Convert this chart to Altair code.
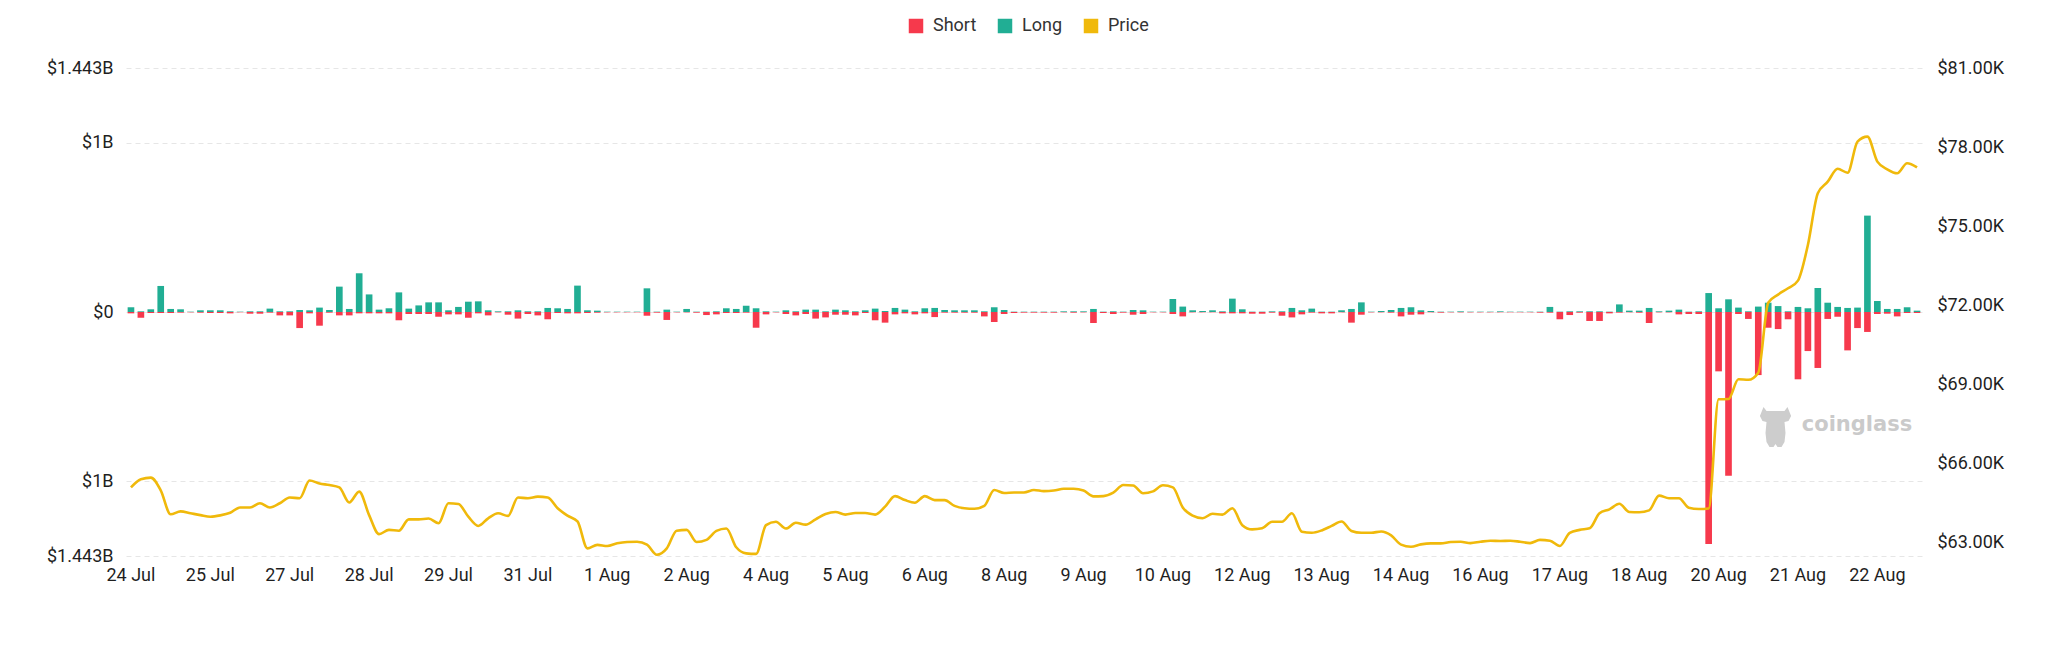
import altair as alt
import pandas as pd

# ---- categories: 4-hour buckets, 24 Jul 08:00 onwards ----
START = "2024-07-24 08:00"
N_BARS = 181
TIMES = pd.date_range(START, periods=N_BARS, freq="4h").strftime("%Y-%m-%dT%H:%M").tolist()
TICK_EVERY = 8

# ---- long liquidations ($M) ----
LONG_M = [
    28, 4, 16, 154, 18, 16, 2, 10, 10, 10,
    4, 2, 4, 4, 20, 4, 4, 12, 10, 26,
    12, 150, 18, 229, 104, 14, 22, 116, 20, 39,
    57, 57, 10, 30, 61, 63, 10, 4, 4, 10,
    4, 4, 24, 22, 18, 156, 10, 8, 2, 2,
    2, 2, 140, 2, 14, 2, 18, 2, 2, 4,
    22, 18, 37, 22, 4, 2, 10, 4, 14, 14,
    4, 14, 10, 4, 10, 20, 6, 24, 14, 4,
    22, 24, 12, 10, 10, 10, 4, 28, 12, 2,
    2, 2, 2, 2, 4, 4, 4, 18, 2, 4,
    2, 12, 10, 2, 2, 77, 32, 10, 6, 10,
    4, 79, 16, 2, 2, 4, 4, 24, 10, 20,
    2, 2, 10, 18, 57, 2, 6, 12, 24, 28,
    10, 6, 2, 2, 4, 2, 2, 2, 4, 2,
    2, 2, 2, 30, 2, 4, 4, 4, 4, 2,
    45, 8, 8, 24, 4, 8, 14, 2, 4, 112,
    22, 75, 26, 4, 32, 55, 35, 4, 30, 22,
    142, 55, 30, 24, 26, 570, 65, 18, 18, 28, 8,
]

# ---- short liquidations ($M) ----
SHORT_M = [
    8, 34, 6, 6, 6, 4, 2, 4, 6, 6,
    8, 2, 10, 10, 4, 20, 20, 95, 8, 81,
    4, 20, 20, 8, 8, 8, 8, 49, 12, 12,
    12, 28, 14, 14, 34, 8, 20, 2, 16, 39,
    12, 20, 43, 6, 8, 8, 6, 4, 2, 2,
    2, 2, 22, 4, 47, 2, 2, 4, 18, 14,
    6, 6, 4, 93, 14, 2, 12, 20, 12, 39,
    32, 16, 16, 20, 6, 49, 63, 14, 8, 14,
    8, 30, 4, 4, 4, 4, 26, 59, 12, 6,
    4, 4, 4, 4, 2, 4, 2, 65, 6, 12,
    4, 16, 12, 2, 2, 12, 26, 2, 2, 2,
    8, 8, 8, 10, 10, 4, 22, 32, 14, 4,
    8, 8, 2, 63, 16, 2, 2, 4, 26, 16,
    14, 2, 4, 2, 2, 2, 2, 2, 2, 2,
    2, 2, 4, 4, 43, 18, 4, 53, 53, 8,
    4, 2, 4, 65, 2, 2, 14, 12, 12, 1372,
    351, 968, 12, 41, 373, 93, 101, 43, 398, 231,
    331, 41, 28, 227, 95, 118, 12, 10, 26, 6, 6,
]

# ---- price ($) ----
PRICE = [
    65100, 65410, 65470, 64990, 64080, 64190, 64120, 64050, 63990, 64040,
    64140, 64340, 64340, 64500, 64340, 64500, 64720, 64690, 65360, 65250,
    65190, 65100, 64530, 64940, 64050, 63330, 63490, 63460, 63890, 63890,
    63920, 63740, 64500, 64470, 63990, 63640, 63930, 64120, 64020, 64720,
    64690, 64750, 64720, 64310, 64030, 63810, 62790, 62920, 62880, 62980,
    63030, 63040, 62930, 62550, 62790, 63460, 63490, 63030, 63110, 63450,
    63540, 62830, 62600, 62580, 63670, 63800, 63540, 63760, 63690, 63890,
    64090, 64170, 64070, 64130, 64130, 64070, 64370, 64770, 64620, 64520,
    64770, 64620, 64620, 64400, 64310, 64290, 64400, 65000, 64890, 64910,
    64910, 65000, 64960, 64980, 65050, 65050, 64980, 64760, 64770, 64900,
    65190, 65170, 64880, 64950, 65180, 65100, 64340, 64030, 63930, 64100,
    64070, 64310, 63670, 63510, 63550, 63800, 63800, 64120, 63420, 63380,
    63470, 63640, 63810, 63450, 63380, 63380, 63430, 63280, 62930, 62850,
    62940, 62980, 62980, 63030, 63040, 62990, 63040, 63080, 63070, 63080,
    63040, 62990, 63110, 63080, 62880, 63380, 63490, 63550, 64120, 64270,
    64480, 64170, 64160, 64230, 64790, 64690, 64690, 64330, 64280, 64300,
    68440, 68450, 69200, 69180, 69450, 72100, 72410, 72650, 72940, 74290,
    76250, 76690, 77180, 77030, 78210, 78400, 77450, 77160, 77010, 77390, 77230,
]

SERIES = ["Short", "Long", "Price"]
COLORS = ["#F6394C", "#21AE94", "#F0B90B"]
Y_MAX = 1.443e9
LEFT_TICKS = [-Y_MAX, -1e9, 0, 1e9, Y_MAX]
PRICE_DOMAIN = [62500, 81000]
PRICE_TICKS = [63000, 66000, 69000, 72000, 75000, 78000, 81000]

FONT = "Roboto"
LOGO_PATH = (
    "M -0.6,-1 L -0.45,-0.8 L 0.45,-0.8 L 0.6,-1 L 0.7,-0.75 L 0.78,-0.55 L 0.65,-0.3 "
    "L 0.45,-0.25 L 0.5,0.3 L 0.45,0.75 L 0.3,1 L 0.1,1 L 0,0.85 L -0.1,1 L -0.3,1 "
    "L -0.45,0.75 L -0.5,0.3 L -0.45,-0.25 L -0.65,-0.3 L -0.78,-0.55 L -0.7,-0.75 Z"
)

df_bars = pd.DataFrame({
    "time": TIMES + TIMES,
    "series": ["Long"] * N_BARS + ["Short"] * N_BARS,
    "value": [v * 1e6 for v in LONG_M] + [-v * 1e6 for v in SHORT_M],
})
df_price = pd.DataFrame({"time": TIMES, "series": ["Price"] * N_BARS, "price": PRICE})
df_mark = pd.DataFrame({"t": ["coinglass"]})

color_scale = alt.Scale(domain=SERIES, range=COLORS)

x_enc = alt.X(
    "time:O", sort=None,
    scale=alt.Scale(paddingInner=0.33, paddingOuter=0.165),
    axis=alt.Axis(
        values=TIMES[::TICK_EVERY],
        labelExpr="timeFormat(toDate(datum.value), '%-d %b')",
        labelAngle=0, domain=False, ticks=False, tickSize=0, grid=False,
        labelPadding=10, labelFontSize=18, labelColor="#1f1f1f", title=None,
        labelFont=FONT,
    ),
)

watermark = alt.Chart(df_mark).mark_text(
    font="DejaVu Sans", fontSize=21, fontWeight="bold", color="#cacaca",
    align="center", baseline="alphabetic",
).encode(x=alt.value(1731), y=alt.value(363), text="t:N")

logo = alt.Chart(df_mark).mark_point(
    shape=LOGO_PATH, size=1600, filled=True, color="#cdcdcd", opacity=1, strokeWidth=0,
).encode(x=alt.value(1649.5), y=alt.value(359))

bars = alt.Chart(df_bars).mark_bar().encode(
    x=x_enc,
    y=alt.Y(
        "value:Q", stack=None,
        scale=alt.Scale(domain=[-Y_MAX, Y_MAX], nice=False),
        axis=alt.Axis(
            values=LEFT_TICKS,
            labelExpr="datum.value == 0 ? '$0' : '$' + format(abs(datum.value) / 1e9, '.4~f') + 'B'",
            grid=True, gridDash=[5, 4], gridColor="#e6e6e6", gridWidth=1,
            domain=False, ticks=False, tickSize=0, labelPadding=13,
            labelFontSize=18, labelColor="#1f1f1f", labelFont=FONT, title=None,
        ),
    ),
    color=alt.Color(
        "series:N", scale=color_scale,
        legend=alt.Legend(
            orient="none", legendX=781, legendY=-51, direction="horizontal", title=None,
            symbolType="square", symbolSize=210, symbolStrokeWidth=0,
            labelFontSize=18, labelColor="#333333", labelFont=FONT,
            labelOffset=8, columnPadding=19, padding=0,
        ),
    ),
)

line = alt.Chart(df_price).mark_line(interpolate="monotone", strokeWidth=2.6).encode(
    x=x_enc,
    y=alt.Y(
        "price:Q",
        scale=alt.Scale(domain=PRICE_DOMAIN, nice=False, zero=False),
        axis=alt.Axis(
            orient="right", values=PRICE_TICKS,
            labelExpr="'$' + format(datum.value / 1000, '.2f') + 'K'",
            grid=False, domain=False, ticks=False, tickSize=0, labelPadding=15,
            labelFontSize=18, labelColor="#1f1f1f", labelFont=FONT, title=None,
        ),
    ),
    color=alt.Color("series:N", scale=color_scale),
)

chart = alt.layer(watermark, logo, bars, line).resolve_scale(y="independent").properties(
    width=1796, height=488,
    autosize=alt.AutoSizeParams(type="none"),
    padding={"left": 118, "top": 60, "right": 110, "bottom": 60},
    background="white",
).configure(font=FONT).configure_view(stroke=None)

chart.save("out.html", embed_options={"renderer": "svg", "actions": False})
